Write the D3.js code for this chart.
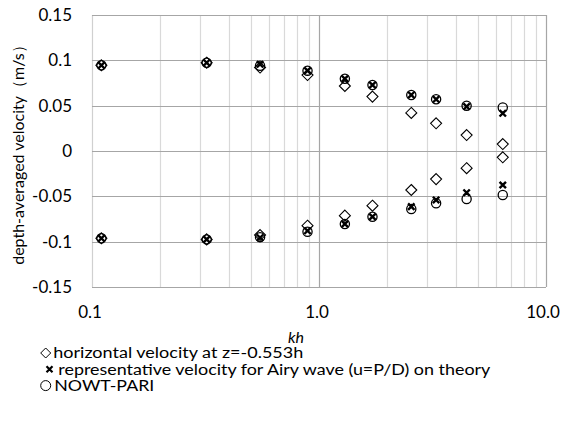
<!DOCTYPE html>
<html>
<head>
<meta charset="utf-8">
<script src="https://cdn.jsdelivr.net/npm/d3@7"></script>
<style>
  body { margin: 0; background: #fff; }
  text { font-family: Lato, "Liberation Sans", sans-serif; fill: #000; }
</style>
</head>
<body>
<div id="chart"></div>
<script>

// data
var kh = [0.11, 0.32, 0.55, 0.89, 1.30, 1.72, 2.55, 3.28, 4.47, 6.45];

var horizPos = [0.0945, 0.0974, 0.0920, 0.0838, 0.0717, 0.0600, 0.0420, 0.0305, 0.0176, 0.0077];
var horizNeg = [-0.0963, -0.0975, -0.0927, -0.0824, -0.0713, -0.0603, -0.0430, -0.0310, -0.0190, -0.0070];

var reprPos = [0.0945, 0.0974, 0.0956, 0.0886, 0.0797, 0.0728, 0.0618, 0.0570, 0.0490, 0.0416];
var reprNeg = [-0.0963, -0.0975, -0.0956, -0.0880, -0.0805, -0.0725, -0.0614, -0.0540, -0.0460, -0.0375];

var nowtPos = [0.0945, 0.0974, 0.0940, 0.0886, 0.0797, 0.0728, 0.0618, 0.0570, 0.0500, 0.0480];
var nowtNeg = [-0.0963, -0.0975, -0.0950, -0.0890, -0.0805, -0.0725, -0.0640, -0.0577, -0.0530, -0.0485];

var yTicks = [-0.15, -0.1, -0.05, 0, 0.05, 0.1, 0.15];
var yTickLabels = ["-0.15", "-0.1", "-0.05", "0", "0.05", "0.1", "0.15"];
var xTicks = [0.1, 1, 10];
var xTickLabels = ["0.1", "1.0", "10.0"];

var legendLabels = [
	"horizontal velocity at z=-0.553h",
	"representative velocity for Airy wave (u=P/D) on theory",
	"NOWT-PARI"
];
// widths the legend texts take in the picture (it is stretched sideways)
var legendWidths = [250, 432, 100];


var margin = {top: 15, right: 16, bottom: 136, left: 92};
var width = 562 - margin.left - margin.right;
var height = 423 - margin.top - margin.bottom;

var svg = d3.select("#chart").append("svg")
	.attr("width", 562)
	.attr("height", 423);

var g = svg.append("g")
	.attr("transform", "translate(" + margin.left + "," + margin.top + ")");

var x = d3.scaleLog().domain([0.1, 10]).range([0, width]);
var y = d3.scaleLinear().domain([-0.15, 0.15]).range([height, 0]);

// minor vertical grid (2..9 in each decade)
var minor = [];
[0.1, 1].forEach(function(dec) {
	for (var i = 2; i <= 9; i++) minor.push(dec * i);
});

g.selectAll(".minor")
	.data(minor)
	.enter().append("line")
	.attr("x1", function(d) { return Math.round(x(d)) + 0.5; })
	.attr("x2", function(d) { return Math.round(x(d)) + 0.5; })
	.attr("y1", 0).attr("y2", height)
	.attr("stroke", "#d9d9d9").attr("stroke-width", 1.2);

g.selectAll(".major")
	.data(xTicks)
	.enter().append("line")
	.attr("x1", function(d) { return Math.round(x(d)) + 0.5; })
	.attr("x2", function(d) { return Math.round(x(d)) + 0.5; })
	.attr("y1", 0).attr("y2", height)
	.attr("stroke", function(d) { return d == 0.1 ? "#d0d0d0" : "#a6a6a6"; })
	.attr("stroke-width", 1.2);

g.selectAll(".hgrid")
	.data(yTicks)
	.enter().append("line")
	.attr("x1", 0).attr("x2", width)
	.attr("y1", function(d) { return Math.round(y(d)) + 0.5; })
	.attr("y2", function(d) { return Math.round(y(d)) + 0.5; })
	.attr("stroke", "#a6a6a6").attr("stroke-width", 1.2);

// tick labels
g.selectAll(".ylab")
	.data(yTicks)
	.enter().append("text")
	.attr("x", -20)
	.attr("y", function(d) { return y(d); })
	.attr("dy", "0.35em")
	.attr("text-anchor", "end")
	.style("font-size", "17px")
	.text(function(d, i) { return yTickLabels[i]; });

g.selectAll(".xlab")
	.data(xTicks)
	.enter().append("text")
	.attr("x", function(d) { return x(d) - (d == 10 ? 3 : 2); })
	.attr("y", height + 31)
	.attr("text-anchor", "middle")
	.style("font-size", "17px")
	.text(function(d, i) { return xTickLabels[i]; });

g.append("text")
	.attr("x", width / 2 - 23)
	.attr("y", height + 56)
	.attr("text-anchor", "middle")
	.style("font-size", "16px")
	.style("font-style", "italic")
	.text("kh");

svg.append("text")
	.attr("transform", "translate(24," + (margin.top + height / 2) + ") rotate(-90)")
	.attr("text-anchor", "middle")
	.style("font-size", "16px")
	.text("depth-averaged velocity（m/s）");

// marker shapes
function diamondPath(r) {
	return "M0," + (-r) + "L" + r + ",0L0," + r + "L" + (-r) + ",0Z";
}
function crossPath(r) {
	return "M" + (-r) + "," + (-r) + "L" + r + "," + r + "M" + (-r) + "," + r + "L" + r + "," + (-r);
}

function drawDiamonds(sel, vals) {
	sel.selectAll(null)
		.data(vals)
		.enter().append("path")
		.attr("transform", function(d, i) { return "translate(" + x(kh[i]) + "," + y(d) + ")"; })
		.attr("d", diamondPath(5.5))
		.attr("fill", "#fff").attr("stroke", "#000").attr("stroke-width", 1.1);
}
function drawCircles(sel, vals) {
	sel.selectAll(null)
		.data(vals)
		.enter().append("circle")
		.attr("cx", function(d, i) { return x(kh[i]); })
		.attr("cy", function(d) { return y(d); })
		.attr("r", 4.6)
		.attr("fill", "none").attr("stroke", "#000").attr("stroke-width", 1.3);
}
function drawCrosses(sel, vals) {
	sel.selectAll(null)
		.data(vals)
		.enter().append("path")
		.attr("transform", function(d, i) { return "translate(" + x(kh[i]) + "," + y(d) + ")"; })
		.attr("d", crossPath(3.2))
		.attr("fill", "none").attr("stroke", "#000").attr("stroke-width", 2.4);
}

var marks = g.append("g");
drawDiamonds(marks.append("g"), horizPos);
drawDiamonds(marks.append("g"), horizNeg);
drawCircles(marks.append("g"), nowtPos);
drawCircles(marks.append("g"), nowtNeg);
drawCrosses(marks.append("g"), reprPos);
drawCrosses(marks.append("g"), reprNeg);

// legend
var legend = svg.append("g").attr("transform", "translate(0,353)");
var rowH = 16.3;
var legendX = [53.3, 58.3, 54.3];

legend.append("path")
	.attr("transform", "translate(45.7,0)")
	.attr("d", diamondPath(5))
	.attr("fill", "#fff").attr("stroke", "#000").attr("stroke-width", 1);
legend.append("path")
	.attr("transform", "translate(49.5," + rowH + ")")
	.attr("d", crossPath(3))
	.attr("fill", "none").attr("stroke", "#000").attr("stroke-width", 2.2);
legend.append("circle")
	.attr("cx", 45.7).attr("cy", rowH * 2).attr("r", 5)
	.attr("fill", "none").attr("stroke", "#000").attr("stroke-width", 1);

legend.selectAll(".leglab")
	.data(legendLabels)
	.enter().append("text")
	.attr("x", function(d, i) { return legendX[i]; })
	.attr("y", function(d, i) { return i * rowH; })
	.attr("dy", "0.35em")
	.attr("textLength", function(d, i) { return legendWidths[i]; })
	.attr("lengthAdjust", "spacingAndGlyphs")
	.style("font-size", "15.5px")
	.text(function(d) { return d; });

</script>
</body>
</html>
